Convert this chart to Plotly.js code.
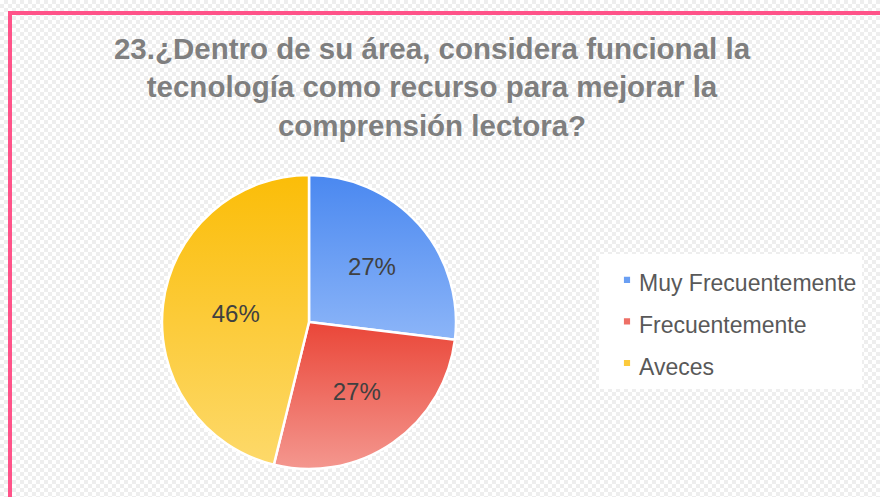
<!DOCTYPE html>
<html>
<head>
<meta charset="utf-8">
<script src="https://cdn.plot.ly/plotly-3.0.1.min.js"></script>
<style>
  html, body { margin: 0; padding: 0; }
  body {
    width: 880px; height: 497px; overflow: hidden;
    background-color: #ffffff;
    background-image: conic-gradient(#eeeeee 25%, #ffffff 0 50%, #eeeeee 0 75%, #ffffff 0);
    background-size: 8px 8px;
  }
  #chart { width: 880px; height: 497px; }
</style>
</head>
<body>
<div id="chart"></div>
<script>
const categories = ["Muy Frecuentemente", "Frecuentemente", "Aveces"];
const values = [7, 7, 12];
const sliceColors = ["#6a9ff3", "#ee6f66", "#fcca3c"];
const gradientStops = [
  ["#4a88f0", "#8cb5f8"],
  ["#ea4638", "#f4978f"],
  ["#fbbd08", "#fdd96a"]
];
const titleText = "<b>23.¿Dentro de su área, considera funcional la<br>tecnología como recurso para mejorar la<br>comprensión lectora?</b>";

const W = 880, H = 497;
const cx = 309, cy = 322, r = 147;

const trace = {
  type: "pie",
  labels: categories.map(c => '<span style="font-size:23px">' + c + '</span>'),
  values: values,
  sort: false,
  direction: "clockwise",
  rotation: 0,
  texttemplate: "%{percent:.0%}",
  textposition: "inside",
  insidetextorientation: "horizontal",
  insidetextfont: { family: "Liberation Sans, Arial, sans-serif", size: 24, color: "#404040" },
  marker: { colors: sliceColors, line: { color: "#ffffff", width: 2.5 } },
  hoverinfo: "none",
  domain: { x: [(cx - r) / W, (cx + r) / W], y: [(H - cy - r) / H, (H - cy + r) / H] }
};

const layout = {
  width: W, height: H,
  margin: { l: 0, r: 0, t: 0, b: 0 },
  paper_bgcolor: "rgba(0,0,0,0)",
  plot_bgcolor: "rgba(0,0,0,0)",
  title: {
    text: titleText,
    font: { family: "Liberation Sans, Arial, sans-serif", size: 29.5, color: "#7f7f7f" },
    x: 432 / W, xanchor: "center",
    y: 1 - 59 / H, yanchor: "top", yref: "container"
  },
  showlegend: true,
  legend: {
    x: 599 / W, xanchor: "left",
    y: 1 - 254 / H, yanchor: "top",
    bgcolor: "#ffffff",
    font: { family: "Liberation Sans, Arial, sans-serif", size: 29.7, color: "#595959" },
    itemclick: false
  },
  shapes: [{
    type: "rect", xref: "paper", yref: "paper", layer: "below",
    x0: 10 / W, x1: 1.05, y0: -0.05, y1: 1 - 13 / H,
    line: { color: "#ff5389", width: 4 }, fillcolor: "rgba(0,0,0,0)"
  }]
};

Plotly.newPlot("chart", [trace], layout, { staticPlot: true, displayModeBar: false }).then(gd => {
  const svg = gd.querySelector("svg.main-svg");
  let defs = svg.querySelector("defs");
  const ns = "http://www.w3.org/2000/svg";
  gradientStops.forEach((st, i) => {
    const g = document.createElementNS(ns, "linearGradient");
    g.setAttribute("id", "sliceGrad" + i);
    g.setAttribute("x1", "0"); g.setAttribute("y1", "0");
    g.setAttribute("x2", "0"); g.setAttribute("y2", "1");
    [[0, st[0]], [1, st[1]]].forEach(([o, c]) => {
      const s = document.createElementNS(ns, "stop");
      s.setAttribute("offset", o);
      s.setAttribute("stop-color", c);
      g.appendChild(s);
    });
    defs.appendChild(g);
  });
  gd.querySelectorAll(".pielayer .slice path.surface").forEach((p, i) => {
    p.style.fill = "url(#sliceGrad" + i + ")";
  });
  gd.querySelectorAll(".legend .legendpoints path").forEach(p => {
    const t = p.getAttribute("transform") || "";
    p.setAttribute("transform", t + " translate(8,0) scale(0.65)");
  });
});
</script>
</body>
</html>
